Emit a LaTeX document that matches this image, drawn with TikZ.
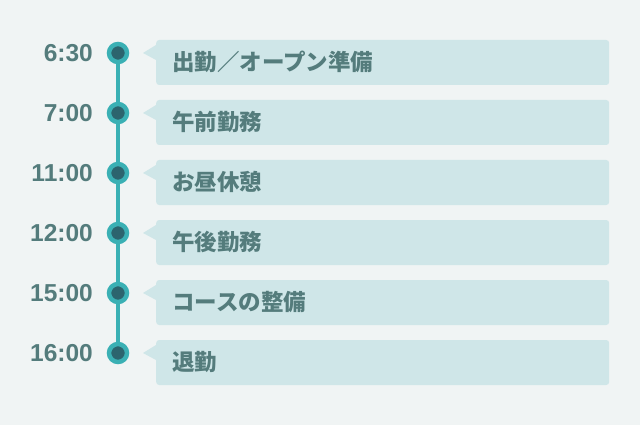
\documentclass[tikz,border=0pt]{standalone}
\usepackage{fontspec}
\setmainfont{Liberation Sans}
\newfontfamily\jpfont{Noto Sans CJK JP}
\usetikzlibrary{positioning,calc}

\definecolor{bgcol}{HTML}{F0F4F4}
\definecolor{boxcol}{HTML}{CFE6E8}
\definecolor{txtcol}{HTML}{547C7C}
\definecolor{tealcol}{HTML}{3AB0B4}
\definecolor{darkcol}{HTML}{2C646E}

\begin{document}
\begin{tikzpicture}[
    x=1pt, y=-1pt,
    time/.style={anchor=east, inner sep=0pt, text=txtcol, font=\fontsize{24.5}{24.5}\selectfont\bfseries},
    dot/.style={circle, minimum size=18pt, inner sep=0pt, draw=tealcol, line width=4.5pt, fill=darkcol},
    task/.style={rectangle, rounded corners=3pt, fill=boxcol, anchor=west, minimum width=453pt, minimum height=45pt,
        text width=421pt, inner xsep=16pt, align=left, text height=19pt, text depth=3pt, text=txtcol, font=\jpfont\fontsize{22.5}{22.5}\selectfont\bfseries},
    line/.style={draw=tealcol, line width=4.5pt}
]
\fill[bgcol] (0,0) rectangle (640,425);
\useasboundingbox (0,0) rectangle (640,425);

% timeline
\node[dot] (d1) at (118,53) {};
\node[dot] (d2) at (118,113) {};
\node[dot] (d3) at (118,173) {};
\node[dot] (d4) at (118,233) {};
\node[dot] (d5) at (118,293) {};
\node[dot] (d6) at (118,353) {};
\draw[line] (d1.south) -- (d2.north);
\draw[line] (d2.south) -- (d3.north);
\draw[line] (d3.south) -- (d4.north);
\draw[line] (d4.south) -- (d5.north);
\draw[line] (d5.south) -- (d6.north);

% times
\node[time] (t1) at (93,53.5) {6:30};
\node[time] (t2) at (93,113.5) {7:00};
\node[time] (t3) at (93,173.5) {11:00};
\node[time] (t4) at (93,233.5) {12:00};
\node[time] (t5) at (93,293.5) {15:00};
\node[time] (t6) at (93,353.5) {16:00};

% tasks
\node[task] (b1) at (156,62.5) {出勤／オープン準備};
\node[task] (b2) at (156,122.5) {午前勤務};
\node[task] (b3) at (156,182.5) {お昼休憩};
\node[task] (b4) at (156,242.5) {午後勤務};
\node[task] (b5) at (156,302.5) {コースの整備};
\node[task] (b6) at (156,362.5) {退勤};

% pointers
\fill[boxcol] ([yshift=17.5pt]b1.west) -- ([shift={(-13pt,9.5pt)}]b1.west) -- ([yshift=2.5pt]b1.west) -- cycle;
\fill[boxcol] ([yshift=17.5pt]b2.west) -- ([shift={(-13pt,9.5pt)}]b2.west) -- ([yshift=2.5pt]b2.west) -- cycle;
\fill[boxcol] ([yshift=17.5pt]b3.west) -- ([shift={(-13pt,9.5pt)}]b3.west) -- ([yshift=2.5pt]b3.west) -- cycle;
\fill[boxcol] ([yshift=17.5pt]b4.west) -- ([shift={(-13pt,9.5pt)}]b4.west) -- ([yshift=2.5pt]b4.west) -- cycle;
\fill[boxcol] ([yshift=17.5pt]b5.west) -- ([shift={(-13pt,9.5pt)}]b5.west) -- ([yshift=2.5pt]b5.west) -- cycle;
\fill[boxcol] ([yshift=17.5pt]b6.west) -- ([shift={(-13pt,9.5pt)}]b6.west) -- ([yshift=2.5pt]b6.west) -- cycle;
\end{tikzpicture}
\end{document}
